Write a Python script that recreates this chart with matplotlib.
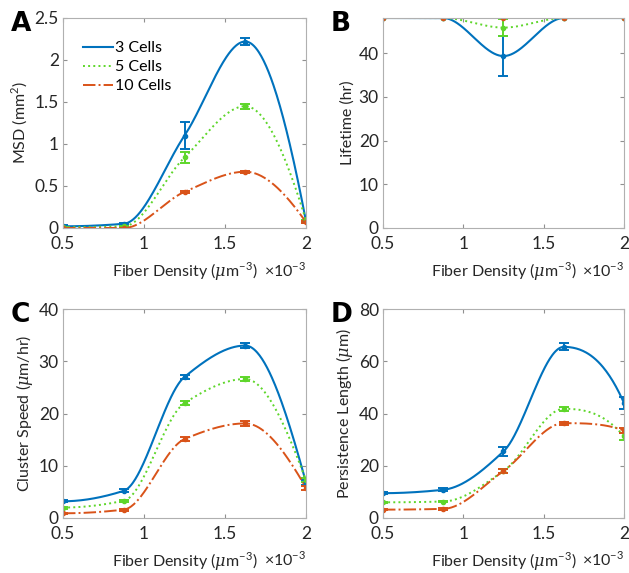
import numpy as np
import matplotlib
matplotlib.use('Agg')
import matplotlib.pyplot as plt

plt.rcParams['font.family'] = ['Lato', 'DejaVu Sans']
plt.rcParams['mathtext.fontset'] = 'custom'
plt.rcParams['mathtext.rm'] = 'Lato'
plt.rcParams['mathtext.it'] = 'DejaVu Serif:italic'

# fiber density (x 1e-3 um^-3)
density = [0.5, 0.875, 1.25, 1.625, 2.0]
labels = ['3 Cells', '5 Cells', '10 Cells']

# A: MSD (mm^2)
msd = [[0.02, 0.05, 1.10, 2.22, 0.08],
       [0.01, 0.02, 0.84, 1.45, 0.09],
       [0.00, 0.00, 0.43, 0.67, 0.07]]
msd_err = [[0.01, 0.01, 0.165, 0.045, 0.02],
           [0.005, 0.005, 0.07, 0.03, 0.01],
           [0.003, 0.003, 0.012, 0.012, 0.01]]

# B: lifetime (hr)
life = [[48, 48, 39.3, 48, 48],
        [48, 48, 45.8, 48, 48],
        [48, 48, 48, 48, 48]]
life_err = [[0, 0, 4.6, 0, 0],
            [0, 0, 1.9, 0, 0],
            [0, 0, 0, 0, 0]]

# C: cluster speed (um/hr)
speed = [[3.2, 5.2, 27.0, 33.0, 6.8],
         [2.0, 3.3, 22.0, 26.6, 7.2],
         [0.9, 1.6, 15.1, 18.1, 5.8]]
speed_err = [[0.2, 0.3, 0.4, 0.4, 0.4],
             [0.2, 0.2, 0.4, 0.3, 0.4],
             [0.1, 0.2, 0.4, 0.4, 0.4]]

# D: persistence length (um)
persist = [[9.5, 10.8, 25.5, 65.5, 44.0],
           [6.0, 6.3, 18.0, 41.8, 31.2],
           [3.2, 3.5, 18.0, 36.3, 33.5]]
persist_err = [[0.3, 0.5, 1.8, 1.3, 2.2],
               [0.3, 0.3, 0.6, 0.8, 1.2],
               [0.3, 0.3, 0.6, 0.6, 0.8]]

colors = ['#0072BD', '#5ED62A', '#D95319']
styles = ['-', ':', '-.']
widths = [1.5, 1.4, 1.4]


def pchip(x, y, xs):
    # shape preserving cubic, like matlab's pchip
    x = np.asarray(x, float)
    y = np.asarray(y, float)
    h = np.diff(x)
    dl = np.diff(y) / h
    n = len(x)
    d = np.zeros(n)
    for k in range(1, n - 1):
        if dl[k - 1] * dl[k] > 0:
            w1 = 2 * h[k] + h[k - 1]
            w2 = h[k] + 2 * h[k - 1]
            d[k] = (w1 + w2) / (w1 / dl[k - 1] + w2 / dl[k])

    def end(h0, h1, d0, d1):
        v = ((2 * h0 + h1) * d0 - h0 * d1) / (h0 + h1)
        if np.sign(v) != np.sign(d0):
            v = 0.0
        elif np.sign(d0) != np.sign(d1) and abs(v) > abs(3 * d0):
            v = 3 * d0
        return v
    d[0] = end(h[0], h[1], dl[0], dl[1])
    d[-1] = end(h[-1], h[-2], dl[-1], dl[-2])
    out = np.empty_like(xs)
    for i, t in enumerate(xs):
        k = min(max(np.searchsorted(x, t) - 1, 0), n - 2)
        s = (t - x[k]) / h[k]
        h00 = 2 * s**3 - 3 * s**2 + 1
        h10 = s**3 - 2 * s**2 + s
        h01 = -2 * s**3 + 3 * s**2
        h11 = s**3 - s**2
        out[i] = h00 * y[k] + h10 * h[k] * d[k] + h01 * y[k + 1] + h11 * h[k] * d[k + 1]
    return out


fig = plt.figure(figsize=(6.29, 5.73), dpi=100)
W, H = 629, 573
boxes = {'A': (63, 18, 306, 228), 'B': (383, 18, 624, 228),
         'C': (63, 309, 306, 518), 'D': (383, 309, 624, 518)}
panels = [('A', msd, msd_err, 'MSD (mm$^2$)', (0, 2.5), np.arange(0, 2.6, 0.5)),
          ('B', life, life_err, 'Lifetime (hr)', (0, 48), np.arange(0, 41, 10)),
          ('C', speed, speed_err, 'Cluster Speed ($\\mathit{\\mu}$m/hr)', (0, 40), np.arange(0, 41, 10)),
          ('D', persist, persist_err, 'Persistence Length ($\\mathit{\\mu}$m)', (0, 80), np.arange(0, 81, 20))]

xs = np.linspace(0.5, 2.0, 300)
for name, vals, errs, ylab, ylim, yt in panels:
    l, t, r, b = boxes[name]
    ax = fig.add_axes([l / W, 1 - b / H, (r - l) / W, (b - t) / H])
    for i in range(3):
        ax.plot(xs, pchip(density, vals[i], xs), color=colors[i], ls=styles[i], lw=widths[i],
                label=labels[i])
        ax.errorbar(density, vals[i], yerr=errs[i], fmt='.', color=colors[i], ms=6,
                    capsize=3.5, elinewidth=1.4, capthick=1.4)
    ax.set_xlim(0.5, 2.0)
    ax.set_ylim(*ylim)
    ax.set_xticks([0.5, 1, 1.5, 2])
    ax.set_xticklabels(['0.5', '1', '1.5', '2'])
    ax.set_yticks(yt)
    ax.set_yticklabels(['%g' % v for v in yt])
    for s in ax.spines.values():
        s.set_color('#b0b0b0')
        s.set_linewidth(0.8)
    ax.tick_params(direction='in', top=True, right=True, length=3, color='#909090',
                   labelsize=12.5, labelcolor='#262626')
    ax.tick_params(axis='x', pad=6)
    ax.tick_params(axis='y', pad=3)
    ax.set_ylabel(ylab, fontsize=11.5, color='#262626', labelpad=3)
    ax.set_xlabel('Fiber Density ($\\mathit{\\mu}$m$^{-3}$)', fontsize=11.5, color='#262626', labelpad=6)
    ax.text(1.0, -0.2, '$\\times$10$^{-3}$', transform=ax.transAxes, ha='right', va='center',
            fontsize=11.5, color='#262626')
    fig.text((l - 52) / W, 1 - (t + 6) / H, name, fontsize=19, fontweight='bold',
             family='DejaVu Sans', va='center', ha='left')
    if name == 'A':
        ax.legend(loc='upper left', frameon=False, fontsize=11.5, handlelength=1.9,
                  handletextpad=0.15, labelspacing=0.3, borderaxespad=0,
                  bbox_to_anchor=(0.055, 0.92))

fig.savefig('out.png', dpi=100)
